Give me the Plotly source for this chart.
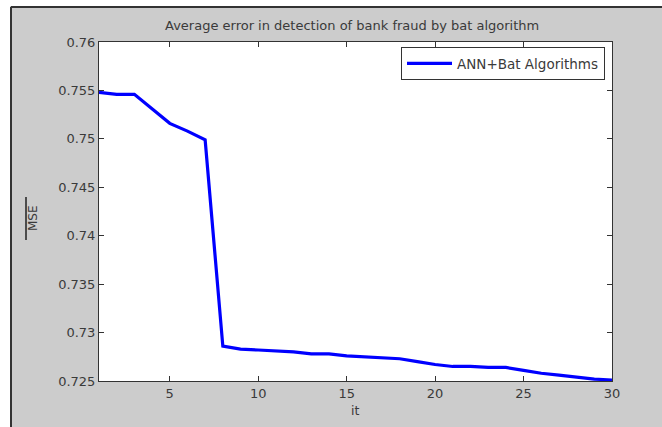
import plotly.graph_objects as go

iterations = list(range(1, 31))
mse_values = [0.7548, 0.7546, 0.7546, 0.7531, 0.7516, 0.7508, 0.7499, 0.7286, 0.7283, 0.7282,
              0.7281, 0.7280, 0.7278, 0.7278, 0.7276, 0.7275, 0.7274, 0.7273, 0.7270, 0.7267,
              0.7265, 0.7265, 0.7264, 0.7264, 0.7261, 0.7258, 0.7256, 0.7254, 0.7252, 0.7251]
x_ticks = [5, 10, 15, 20, 25, 30]
y_ticks = [0.725, 0.73, 0.735, 0.74, 0.745, 0.75, 0.755, 0.76]
y_tick_labels = ["0.725", "0.73", "0.735", "0.74", "0.745", "0.75", "0.755", "0.76"]
series_name = "ANN+Bat Algorithms"
title_text = "Average error in detection of bank fraud by bat algorithm"

W, H = 662, 427
L, R, T, B = 99, 50, 42, 46
pw, ph = W - L - R, H - T - B

def px(x):
    return (x - L) / pw

def py(y):
    return 1 - (y - T) / ph

font = "DejaVu Sans, Liberation Sans, sans-serif"
axc = "#333333"
txt = "#3a3a3a"

fig = go.Figure()
fig.add_trace(go.Scatter(x=iterations, y=mse_values, mode="lines", name=series_name,
                         line=dict(color="#0000ff", width=3.2)))

axis_common = dict(showgrid=False, zeroline=False, showline=True, linecolor=axc, linewidth=1,
                   mirror="ticks", ticks="inside", ticklen=5, tickcolor=axc,
                   tickfont=dict(family=font, size=13, color=txt))

fig.update_layout(
    width=W, height=H,
    margin=dict(l=L, r=R, t=T, b=B),
    paper_bgcolor="#cccccc", plot_bgcolor="white",
    showlegend=True,
    legend=dict(x=px(605), y=py(47), xanchor="right", yanchor="top",
                bgcolor="white", bordercolor=axc, borderwidth=1, itemwidth=45,
                font=dict(family=font, size=13.5, color=txt)),
    xaxis=dict(range=[1, 30], tickvals=x_ticks, **axis_common),
    yaxis=dict(range=[0.725, 0.76], tickvals=y_ticks, ticktext=y_tick_labels, **axis_common),
    annotations=[
        dict(text=title_text, x=px(352), y=py(25), xref="paper", yref="paper",
             xanchor="center", yanchor="middle",
             showarrow=False, font=dict(family=font, size=13, color=txt)),
        dict(text="it", x=px(355), y=py(410), xref="paper", yref="paper",
             xanchor="center", yanchor="middle",
             showarrow=False, font=dict(family=font, size=12.5, color=txt)),
        dict(text="MSE", x=px(33), y=py(218), xref="paper", yref="paper", textangle=-90,
             xanchor="center", yanchor="middle",
             showarrow=False, font=dict(family=font, size=12, color=txt)),
    ],
    shapes=[
        dict(type="rect", xref="paper", yref="paper", x0=px(-10), x1=px(10), y0=py(440), y1=py(-10),
             fillcolor="white", line=dict(width=0), layer="above"),
        dict(type="rect", xref="paper", yref="paper", x0=px(-10), x1=px(680), y0=py(6), y1=py(-10),
             fillcolor="white", line=dict(width=0), layer="above"),
        dict(type="line", xref="paper", yref="paper", x0=px(11), x1=px(680), y0=py(7), y1=py(7),
             line=dict(color="#333333", width=2)),
        dict(type="line", xref="paper", yref="paper", x0=px(11), x1=px(11), y0=py(7), y1=py(440),
             line=dict(color="#333333", width=2)),
        dict(type="line", xref="paper", yref="paper", x0=px(26), x1=px(26), y0=py(197), y1=py(240),
             line=dict(color="#222222", width=1.5)),
    ],
)

fig.write_html("out.html", config={"displayModeBar": False},
               post_script="document.body.style.margin='0';document.body.style.padding='0';")
